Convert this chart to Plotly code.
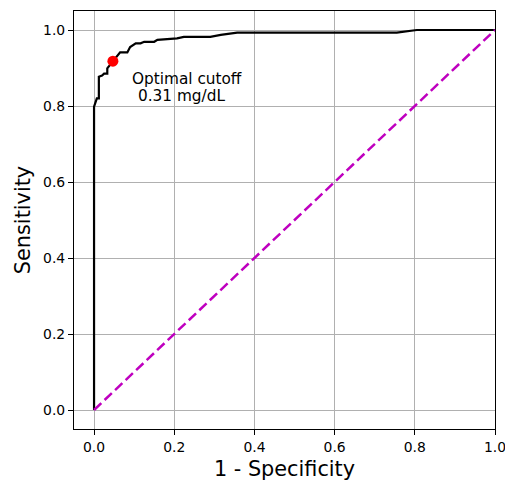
import plotly.graph_objects as go

fpr = [0, 0, 0.007, 0.012, 0.012, 0.02, 0.025, 0.033, 0.033, 0.047, 0.06, 0.065, 0.083, 0.09,
       0.104, 0.116, 0.125, 0.15, 0.158, 0.19, 0.207, 0.224, 0.29, 0.316, 0.357, 0.755, 0.805, 1.0]
tpr = [0, 0.798, 0.82, 0.82, 0.877, 0.88, 0.885, 0.885, 0.899, 0.918, 0.934, 0.941, 0.941, 0.955,
       0.965, 0.965, 0.969, 0.969, 0.974, 0.976, 0.978, 0.982, 0.982, 0.987, 0.993, 0.993, 1.0, 1.0]
chance_x = [0, 1]
chance_y = [0, 1]
opt_x = [0.047]
opt_y = [0.918]
label_lines = ["Optimal cutoff", "0.31 mg/dL"]
ticks = [0.0, 0.2, 0.4, 0.6, 0.8, 1.0]

FONT = "DejaVu Sans"

fig = go.Figure()
fig.add_trace(go.Scatter(x=fpr, y=tpr, mode="lines", line=dict(color="black", width=2.2),
                         showlegend=False))
fig.add_trace(go.Scatter(x=chance_x, y=chance_y, mode="lines",
                         line=dict(color="#bf00bf", width=2.5, dash="10px,4.5px"), showlegend=False))
fig.add_trace(go.Scatter(x=opt_x, y=opt_y, mode="markers",
                         marker=dict(color="red", size=11), showlegend=False))
fig.add_annotation(x=0.093, y=0.872, xref="x", yref="y", xanchor="left", yanchor="middle",
                   text=label_lines[0], showarrow=False, borderpad=0,
                   font=dict(family=FONT, size=15.3, color="black"))
fig.add_annotation(x=0.106, y=0.826, xref="x", yref="y", xanchor="left", yanchor="middle",
                   text=label_lines[1], showarrow=False, borderpad=0,
                   font=dict(family=FONT, size=15.3, color="black"))

axis_common = dict(showgrid=True, gridcolor="#b0b0b0", gridwidth=1.1, zeroline=False,
                   showline=True, linecolor="black", linewidth=1.1, mirror=True,
                   ticks="outside", ticklen=5, tickwidth=1.1, tickcolor="black",
                   tickvals=ticks, tickformat=".1f",
                   tickfont=dict(family=FONT, size=13.9, color="black"))
fig.update_xaxes(range=[-0.05, 1.0], title=dict(text="1 - Specificity",
                 font=dict(family=FONT, size=20.8, color="black"), standoff=7), **axis_common)
fig.update_yaxes(range=[-0.05, 1.05], title=dict(text="Sensitivity",
                 font=dict(family=FONT, size=20.8, color="black"), standoff=6), **axis_common)
fig.update_layout(width=505, height=473, margin=dict(l=66, r=18, t=3, b=52),
                  plot_bgcolor="white", paper_bgcolor="white",
                  font=dict(family=FONT))
fig.write_html("out.html")
